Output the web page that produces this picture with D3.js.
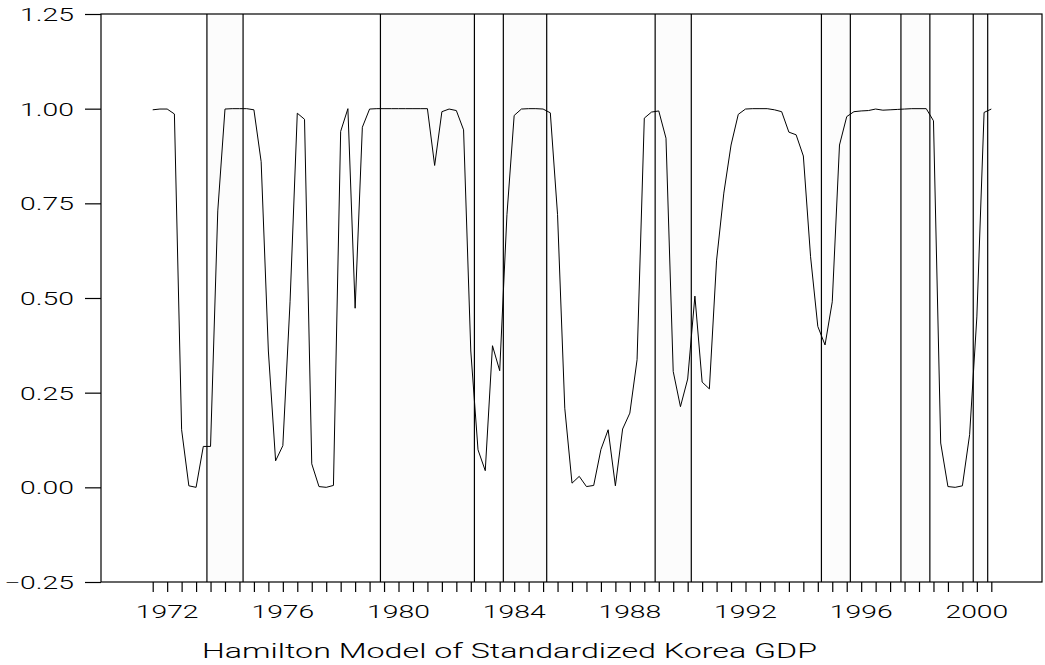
<!DOCTYPE html>
<html>
<head>
<meta charset="utf-8">
<script src="https://cdn.jsdelivr.net/npm/d3@7"></script>
<style>
  html, body { margin: 0; padding: 0; background: #ffffff; }
  svg { display: block; }
  text { font-family: Roboto, "Liberation Sans", Arial, sans-serif; font-weight: 300; fill: #000; }
</style>
</head>
<body>
<svg id="chart" width="1045" height="665"></svg>
<script>
// Smoothed probability of the high-growth regime, quarterly, from 1971:3
const firstQuarter = [1971, 3];
const probHigh = [
  0.997, 0.999, 0.999, 0.986, 0.152, 0.004, 0.000, 0.108, 0.108, 0.730,
  0.999, 1.000, 1.000, 1.000, 0.997, 0.860, 0.360, 0.070, 0.110, 0.490,
  0.988, 0.972, 0.062, 0.002, 0.000, 0.005, 0.940, 1.000, 0.473, 0.951,
  0.999, 1.000, 1.000, 1.000, 1.000, 1.000, 1.000, 1.000, 1.000, 0.850,
  0.992, 0.999, 0.995, 0.944, 0.360, 0.099, 0.044, 0.374, 0.308, 0.720,
  0.982, 0.999, 1.000, 1.000, 0.999, 0.989, 0.720, 0.209, 0.011, 0.029,
  0.002, 0.005, 0.100, 0.152, 0.004, 0.154, 0.196, 0.337, 0.975, 0.991,
  0.994, 0.922, 0.306, 0.213, 0.286, 0.505, 0.278, 0.260, 0.600, 0.777,
  0.904, 0.985, 0.999, 1.000, 1.000, 1.000, 0.997, 0.992, 0.938, 0.931,
  0.875, 0.609, 0.425, 0.376, 0.490, 0.904, 0.979, 0.992, 0.994, 0.995,
  0.999, 0.996, 0.997, 0.998, 0.999, 1.000, 1.000, 1.000, 0.968, 0.117,
  0.002, 0.000, 0.004, 0.139, 0.450, 0.990, 0.999
];

// Shaded periods, first and last quarter of each
const shadedPeriods = [
  [[1973, 3], [1974, 3]],
  [[1979, 3], [1982, 3]],
  [[1983, 4], [1985, 1]],
  [[1989, 1], [1990, 1]],
  [[1994, 4], [1995, 3]],
  [[1997, 3], [1998, 2]],
  [[2000, 1], [2000, 2]]
];

const yTickValues = [-0.25, 0.00, 0.25, 0.50, 0.75, 1.00, 1.25];
const xLabelYears = [1972, 1976, 1980, 1984, 1988, 1992, 1996, 2000];
const titleText = "Hamilton Model of Standardized Korea GDP";

// Layout
const W = 1045, H = 665;
const plot = { left: 101, right: 1042, top: 14, bottom: 582 };

const qTime = ([yr, q]) => yr + (q - 1) / 4;
const t0 = qTime(firstQuarter);
const series = probHigh.map((v, i) => ({ t: t0 + i / 4, v }));

const x = d3.scaleLinear().domain([1969.712, 2002.253]).range([plot.left, plot.right]);
const y = d3.scaleLinear().domain([-0.25, 1.25]).range([plot.bottom, plot.top]);

const svg = d3.select("#chart");
svg.append("rect").attr("width", W).attr("height", H).attr("fill", "#fff");

// Shaded bands, each covering its quarters (half a quarter either side)
const bands = svg.append("g");
shadedPeriods.forEach(([a, b]) => {
  const x0 = x(qTime(a) - 0.125), x1 = x(qTime(b) + 0.125);
  bands.append("rect")
    .attr("x", x0).attr("y", plot.top)
    .attr("width", x1 - x0).attr("height", plot.bottom - plot.top)
    .attr("fill", "#fcfcfc");
  [x0, x1].forEach(xx => bands.append("line")
    .attr("x1", xx).attr("x2", xx)
    .attr("y1", plot.top).attr("y2", plot.bottom)
    .attr("stroke", "#000").attr("stroke-width", 1.2));
});

// Probability line
svg.append("path")
  .datum(series)
  .attr("fill", "none")
  .attr("stroke", "#000")
  .attr("stroke-width", 1)
  .attr("stroke-linejoin", "miter")
  .attr("d", d3.line().x(d => x(d.t)).y(d => y(d.v)));

// Frame
svg.append("rect")
  .attr("x", plot.left).attr("y", plot.top)
  .attr("width", plot.right - plot.left).attr("height", plot.bottom - plot.top)
  .attr("fill", "none").attr("stroke", "#000").attr("stroke-width", 1.2);

const labelSize = 17.7, stretch = 1.6;

// Y axis
const yAxis = svg.append("g")
  .attr("transform", `translate(${plot.left},0)`)
  .call(d3.axisLeft(y).tickValues(yTickValues).tickSize(16).tickFormat(d3.format(".2f")));
yAxis.select(".domain").remove();
yAxis.selectAll(".tick line").attr("stroke", "#000").attr("stroke-width", 1.2);
yAxis.selectAll(".tick text")
  .attr("x", 0).attr("dy", "0.36em")
  .attr("text-anchor", "end")
  .attr("font-size", labelSize)
  .attr("font-family", null)
  .attr("transform", `translate(-27,0) scale(${stretch},1)`);

// X axis: ticks every half year, labels every four years
const xTicks = d3.range(t0, qTime([2000, 3]) + 0.01, 0.5);
const xAxis = svg.append("g")
  .attr("transform", `translate(0,${plot.bottom})`)
  .call(d3.axisBottom(x).tickValues(xTicks).tickSize(10).tickFormat(""));
xAxis.select(".domain").remove();
xAxis.selectAll(".tick line").attr("stroke", "#000").attr("stroke-width", 1.2);

svg.append("g").selectAll("text")
  .data(xLabelYears)
  .join("text")
  .attr("text-anchor", "middle")
  .attr("font-size", labelSize)
  .attr("transform", d => `translate(${x(d)},${plot.bottom + 36}) scale(${stretch},1)`)
  .text(d => d);

// Caption under the axis
svg.append("text")
  .attr("x", 202).attr("y", 658)
  .attr("font-size", 21)
  .attr("textLength", 615)
  .attr("lengthAdjust", "spacingAndGlyphs")
  .text(titleText);
</script>
</body>
</html>
